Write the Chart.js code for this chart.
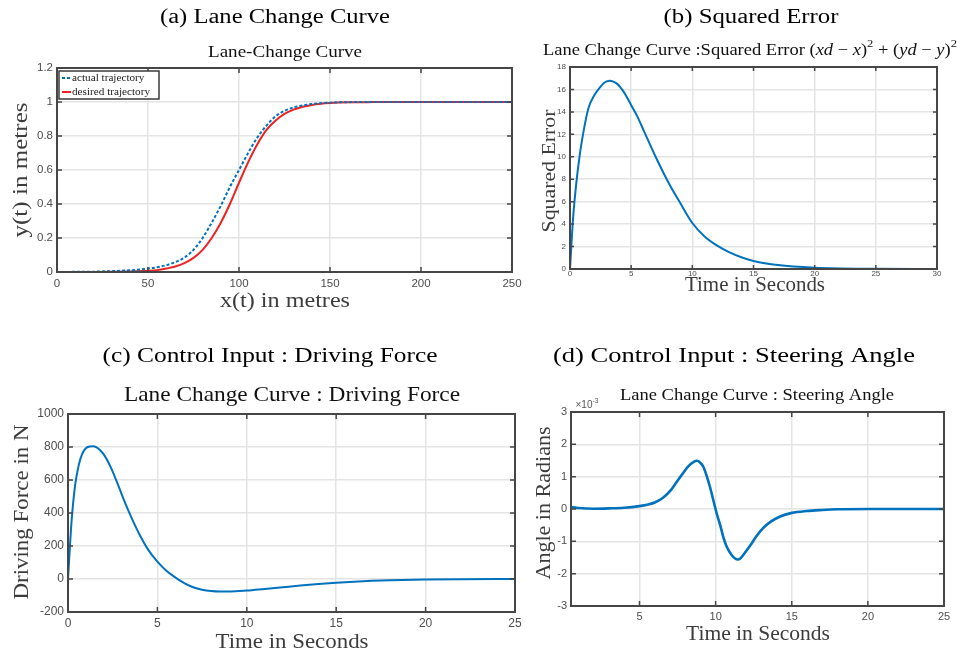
<!DOCTYPE html>
<html>
<head>
<meta charset="utf-8">
<title>Lane change results</title>
<script src="https://cdn.jsdelivr.net/npm/chart.js@4.4.0/dist/chart.umd.min.js"></script>
<style>
  body { margin: 0; background: #fff; width: 962px; height: 655px; position: relative; overflow: hidden; }
  canvas { position: absolute; }
</style>
</head>
<body>
<canvas id="plotA" width="535" height="325" style="left:0;top:0"></canvas>
<canvas id="plotB" width="427" height="325" style="left:535px;top:0"></canvas>
<canvas id="plotC" width="535" height="330" style="left:0;top:325px"></canvas>
<canvas id="plotD" width="427" height="330" style="left:535px;top:325px"></canvas>
<script>
// ---- (a) lane change curve: y(t) vs x(t) in metres
const laneX     = [0, 10, 20, 30, 40, 50, 55, 60, 65, 70, 75, 80, 85, 90, 95, 100, 105, 110, 115, 120, 125, 130, 135, 140, 145, 150, 160, 170, 180, 200, 250];
const actualY   = [0, 0.001, 0.002, 0.005, 0.01, 0.02, 0.028, 0.04, 0.058, 0.085, 0.13, 0.2, 0.29, 0.39, 0.5, 0.6, 0.7, 0.79, 0.86, 0.915, 0.948, 0.968, 0.98, 0.988, 0.993, 0.996, 0.999, 1, 1, 1, 1];
const desiredY  = [0, 0, 0.0005, 0.001, 0.003, 0.007, 0.011, 0.02, 0.032, 0.052, 0.083, 0.13, 0.2, 0.29, 0.4, 0.525, 0.645, 0.75, 0.835, 0.89, 0.93, 0.955, 0.972, 0.983, 0.99, 0.994, 0.998, 0.999, 1, 1, 1];
const laneXTicks = [0, 50, 100, 150, 200, 250];
const laneYTicks = [0, 0.2, 0.4, 0.6, 0.8, 1, 1.2];

// ---- (b) squared error vs time
const errT = [0, 0.25, 0.5, 0.75, 1, 1.5, 2, 2.5, 2.75, 3, 3.25, 3.5, 3.75, 4, 4.25, 4.5, 5, 5.5, 6, 7, 8, 9, 10, 11, 12, 13, 14, 15, 17, 20, 25, 30];
const errY = [0, 4.5, 7.5, 9.8, 11.6, 14.3, 15.5, 16.25, 16.55, 16.72, 16.78, 16.72, 16.58, 16.35, 16.0, 15.6, 14.6, 13.6, 12.4, 10, 7.8, 5.9, 4.1, 2.9, 2.1, 1.5, 1.05, 0.72, 0.35, 0.12, 0.02, 0];
const errXTicks = [0, 5, 10, 15, 20, 25, 30];
const errYTicks = [0, 2, 4, 6, 8, 10, 12, 14, 16, 18];

// ---- (c) driving force vs time
const forceT = [0, 0.2, 0.4, 0.6, 0.8, 1, 1.2, 1.4, 1.6, 1.8, 2, 2.4, 2.8, 3.2, 3.6, 4, 4.5, 5, 5.5, 6, 6.5, 7, 7.5, 8, 8.5, 9, 10, 11, 12, 13, 14, 15, 16, 17, 18, 20, 22, 25];
const forceN = [0, 350, 570, 690, 760, 792, 803, 805, 798, 780, 755, 675, 570, 460, 360, 270, 175, 105, 50, 10, -25, -50, -65, -73, -76, -76, -70, -60, -50, -40, -31, -23, -16, -11, -7, -3, -1, 0];
const forceXTicks = [0, 5, 10, 15, 20, 25];
const forceYTicks = [-200, 0, 200, 400, 600, 800, 1000];

// ---- (d) steering angle vs time (axis units x10^-3 rad)
const steerT = [0.5, 1, 2, 3, 4, 5, 5.5, 6, 6.5, 7, 7.45, 8, 8.2, 8.54, 8.76, 8.98, 9.2, 9.4, 9.63, 9.85, 10.07, 10.3, 10.5, 10.73, 11.06, 11.28, 11.45, 11.6, 11.8, 12.26, 12.7, 13.1, 13.6, 14.2, 15, 16, 17, 18, 20, 25];
const steerA = [0.06, 0.03, 0.01, 0.02, 0.04, 0.09, 0.13, 0.2, 0.33, 0.55, 0.84, 1.2, 1.32, 1.45, 1.49, 1.44, 1.3, 1.04, 0.68, 0.27, -0.14, -0.5, -0.86, -1.17, -1.43, -1.53, -1.56, -1.54, -1.43, -1.14, -0.83, -0.6, -0.4, -0.24, -0.12, -0.06, -0.03, -0.01, 0, 0];
const steerXTicks = [5, 10, 15, 20, 25];
const steerYTicks = [-3, -2, -1, 0, 1, 2, 3];

const SERIF = '"Liberation Serif", "DejaVu Serif", serif';
const SANS = '"Liberation Sans", Arial, sans-serif';
const BLUE = '#0072BD';
const RED = '#EE2222';

function pts(xs, ys) {
  return xs.map((x, i) => ({ x: x, y: ys[i] }));
}

function fontFor(part, size, family) {
  const sz = part[1] === 's' ? size * 0.68 : size;
  return (part[1] === 'i' ? 'italic ' : '') + sz + 'px ' + family;
}

// draw a run of text parts centred on (cx, cy) at `size`, stretched sideways to `target` width if given
function drawRich(ctx, parts, cx, cy, target, size, family, color) {
  family = family || SERIF;
  let total = 0;
  parts.forEach(p => { ctx.font = fontFor(p, size, family); total += ctx.measureText(p[0]).width; });
  const sx = target ? target / total : 1;
  ctx.save();
  ctx.translate(cx, cy);
  ctx.scale(sx, 1);
  let x = -total / 2;
  ctx.fillStyle = color || '#000';
  ctx.textAlign = 'left';
  ctx.textBaseline = 'middle';
  parts.forEach(p => {
    ctx.font = fontFor(p, size, family);
    const y = p[1] === 's' ? -size * 0.42 : 0;
    ctx.fillText(p[0], x, y);
    x += ctx.measureText(p[0]).width;
  });
  ctx.restore();
}

function makePlot(id, cfg) {
  const decor = {
    id: 'decor',
    afterDatasetsDraw(chart) {
      const { ctx, chartArea: a, scales } = chart;
      ctx.save();
      ctx.strokeStyle = '#464646';
      ctx.lineWidth = 1.5;
      ctx.beginPath();
      scales.x.ticks.forEach(t => {
        const px = scales.x.getPixelForValue(t.value);
        ctx.moveTo(px, a.bottom); ctx.lineTo(px, a.bottom - cfg.tickLen);
        ctx.moveTo(px, a.top); ctx.lineTo(px, a.top + cfg.tickLen);
      });
      scales.y.ticks.forEach(t => {
        const py = scales.y.getPixelForValue(t.value);
        ctx.moveTo(a.left, py); ctx.lineTo(a.left + cfg.tickLen, py);
        ctx.moveTo(a.right, py); ctx.lineTo(a.right - cfg.tickLen, py);
      });
      ctx.stroke();
      ctx.lineWidth = 2;
      ctx.strokeRect(a.left, a.top, a.right - a.left, a.bottom - a.top);
      ctx.restore();
    },
    afterDraw(chart) {
      const ctx = chart.ctx;
      ctx.save();
      cfg.texts.forEach(t => {
        if (t.rot) {
          ctx.save();
          ctx.translate(t.x, t.y);
          ctx.rotate(-Math.PI / 2);
          drawRich(ctx, t.parts, 0, 0, t.w, t.size, t.family, t.color);
          ctx.restore();
        } else {
          drawRich(ctx, t.parts, t.x, t.y, t.w, t.size, t.family, t.color);
        }
      });
      if (cfg.legendBox) {
        const b = cfg.legendBox;
        ctx.fillStyle = '#fff';
        ctx.fillRect(b.x, b.y, b.w, b.h);
        ctx.strokeStyle = '#3a3a3a';
        ctx.lineWidth = 1.5;
        ctx.strokeRect(b.x, b.y, b.w, b.h);
        chart.data.datasets.forEach((ds, i) => {
          const ly = b.y + 7 + i * 14;
          ctx.strokeStyle = ds.borderColor;
          ctx.lineWidth = 2;
          ctx.setLineDash(ds.borderDash || []);
          ctx.beginPath();
          ctx.moveTo(b.x + 3, ly); ctx.lineTo(b.x + 12, ly);
          ctx.stroke();
          ctx.setLineDash([]);
          ctx.save();
          ctx.translate(b.x + 13, ly);
          ctx.scale(1.12, 1);
          ctx.fillStyle = '#222';
          ctx.font = '10px ' + SERIF;
          ctx.textAlign = 'left';
          ctx.textBaseline = 'middle';
          ctx.fillText(ds.label, 0, 0);
          ctx.restore();
        });
      }
      ctx.restore();
    }
  };

  const grid = { color: '#e4e4e4', lineWidth: 1.5, drawTicks: false };
  const tickFont = { family: SANS, size: cfg.tickSize };
  const fmt = v => String(Math.round(v * 1000) / 1000);

  return new Chart(document.getElementById(id), {
    type: 'line',
    data: { datasets: cfg.datasets },
    options: {
      responsive: false,
      animation: false,
      layout: { padding: { left: 0, top: cfg.padTop, right: cfg.padRight, bottom: 0 } },
      plugins: { legend: { display: false }, title: { display: false }, tooltip: { enabled: false } },
      elements: { point: { radius: 0 }, line: { cubicInterpolationMode: 'monotone' } },
      scales: {
        x: {
          type: 'linear', min: cfg.xMin, max: cfg.xMax,
          afterBuildTicks: s => { s.ticks = cfg.xTicks.map(v => ({ value: v })); },
          afterFit: s => { s.height = cfg.xAxisH; },
          ticks: { font: tickFont, color: '#4d4d4d', padding: cfg.xPad, maxRotation: 0, autoSkip: false, callback: fmt },
          grid: grid, border: { display: false }
        },
        y: {
          type: 'linear', min: cfg.yMin, max: cfg.yMax,
          afterBuildTicks: s => { s.ticks = cfg.yTicks.map(v => ({ value: v })); },
          afterFit: s => { s.width = cfg.yAxisW; },
          ticks: { font: tickFont, color: '#4d4d4d', padding: 4, autoSkip: false, callback: fmt },
          grid: grid, border: { display: false }
        }
      }
    },
    plugins: [decor]
  });
}

makePlot('plotA', {
  xMin: 0, xMax: 250, yMin: 0, yMax: 1.2, xTicks: laneXTicks, yTicks: laneYTicks,
  padTop: 68, padRight: 23, yAxisW: 57, xAxisH: 53, tickSize: 11.5, tickLen: 5, xPad: 5,
  datasets: [
    { label: 'actual trajectory', data: pts(laneX, actualY), borderColor: BLUE, borderWidth: 2, borderDash: [3, 2] },
    { label: 'desired trajectory', data: pts(laneX, desiredY), borderColor: RED, borderWidth: 2 }
  ],
  legendBox: { x: 59, y: 71, w: 100, h: 28 },
  texts: [
    { parts: [['(a) Lane Change Curve', '']], x: 275, y: 18, w: 230, size: 20, color: '#000' },
    { parts: [['Lane-Change Curve', '']], x: 285, y: 53, w: 154, size: 16, color: '#111' },
    { parts: [['x(t) in metres', '']], x: 285, y: 301, w: 130, size: 21, color: '#3c3c3c' },
    { parts: [['y(t) in metres', '']], x: 22, y: 170, w: 135, size: 20, color: '#3c3c3c', rot: true }
  ]
});

makePlot('plotB', {
  xMin: 0, xMax: 30, yMin: 0, yMax: 18, xTicks: errXTicks, yTicks: errYTicks,
  padTop: 67, padRight: 25, yAxisW: 35, xAxisH: 56, tickSize: 8, tickLen: 4, xPad: 0,
  datasets: [
    { label: 'squared error', data: pts(errT, errY), borderColor: BLUE, borderWidth: 2 }
  ],
  texts: [
    { parts: [['(b) Squared Error', '']], x: 216, y: 18, w: 175, size: 20, color: '#000' },
    { parts: [['Lane Change Curve :Squared Error (', ''], ['xd', 'i'], [' \u2212 ', ''], ['x', 'i'], [')', ''], ['2', 's'],
              [' + (', ''], ['yd', 'i'], [' \u2212 ', ''], ['y', 'i'], [')', ''], ['2', 's']],
      x: 215, y: 51, w: 414, size: 16, color: '#111' },
    { parts: [['Time in Seconds', '']], x: 220, y: 286, w: 140, size: 20, color: '#3c3c3c' },
    { parts: [['Squared Error', '']], x: 15, y: 171, w: 123, size: 19, color: '#3c3c3c', rot: true }
  ]
});

makePlot('plotC', {
  xMin: 0, xMax: 25, yMin: -200, yMax: 1000, xTicks: forceXTicks, yTicks: forceYTicks,
  padTop: 89, padRight: 20, yAxisW: 68, xAxisH: 43, tickSize: 12, tickLen: 5, xPad: 4,
  datasets: [
    { label: 'driving force', data: pts(forceT, forceN), borderColor: BLUE, borderWidth: 2 }
  ],
  texts: [
    { parts: [['(c) Control Input : Driving Force', '']], x: 270, y: 32, w: 335, size: 20, color: '#000' },
    { parts: [['Lane Change Curve : Driving Force', '']], x: 292, y: 70, w: 336, size: 21, color: '#111' },
    { parts: [['Time in Seconds', '']], x: 292, y: 317, w: 153, size: 21, color: '#3c3c3c' },
    { parts: [['Driving Force in N', '']], x: 22, y: 187, w: 175, size: 21, color: '#3c3c3c', rot: true }
  ]
});

makePlot('plotD', {
  xMin: 0.5, xMax: 25, yMin: -3, yMax: 3, xTicks: steerXTicks, yTicks: steerYTicks,
  padTop: 87, padRight: 18, yAxisW: 36, xAxisH: 49, tickSize: 11, tickLen: 5, xPad: 4,
  datasets: [
    { label: 'steering angle', data: pts(steerT, steerA), borderColor: BLUE, borderWidth: 2.6 }
  ],
  texts: [
    { parts: [['(d) Control Input : Steering Angle', '']], x: 199, y: 32, w: 362, size: 20, color: '#000' },
    { parts: [['Lane Change Curve : Steering Angle', '']], x: 222, y: 71, w: 274, size: 16, color: '#111' },
    { parts: [['\u00d710', ''], ['-3', 's']], x: 52, y: 80, size: 10, family: SANS, color: '#555' },
    { parts: [['Time in Seconds', '']], x: 223, y: 310, w: 144, size: 20, color: '#3c3c3c' },
    { parts: [['Angle in Radians', '']], x: 10, y: 178, w: 153, size: 20, color: '#3c3c3c', rot: true }
  ]
});
</script>
</body>
</html>
